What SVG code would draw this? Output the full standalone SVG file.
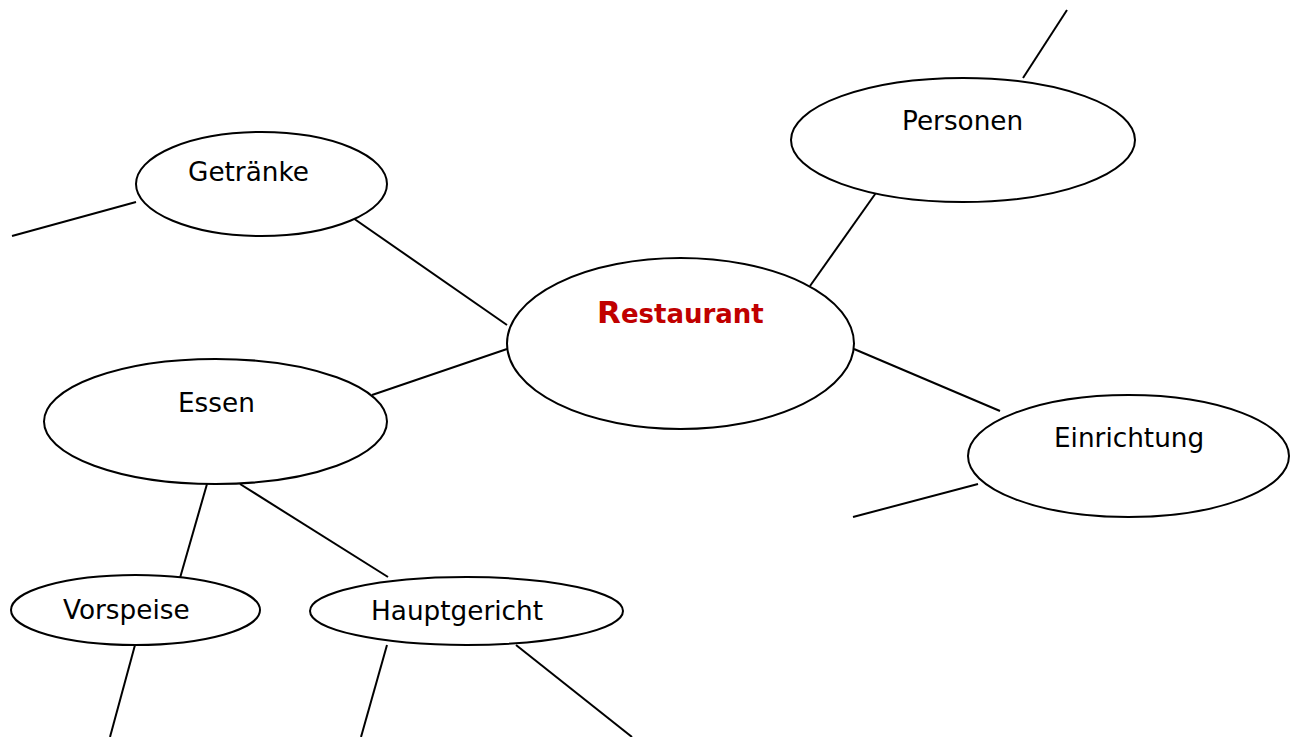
<svg xmlns="http://www.w3.org/2000/svg" width="1295" height="737" viewBox="0 0 1295 737">
<style>
.n{fill:#fff;stroke:#000;stroke-width:2}
.c line{stroke:#000;stroke-width:2}
.t{font-family:"DejaVu Sans",Verdana,sans-serif;font-size:26.3px;fill:#000}
.r{font-family:"DejaVu Sans",Verdana,sans-serif;font-weight:bold;font-size:26px;fill:#c00000}
</style>
<rect width="1295" height="737" fill="#fff"/>
<g id="connectors" class="c">
<line x1="1067" y1="10" x2="1023" y2="78"/>
<line x1="878" y1="190" x2="810" y2="286"/>
<line x1="854" y1="349" x2="1000" y2="411"/>
<line x1="978" y1="484" x2="853" y2="517"/>
<line x1="353" y1="218" x2="507" y2="325"/>
<line x1="507" y1="349" x2="372" y2="395"/>
<line x1="136" y1="202" x2="12" y2="236"/>
<line x1="207" y1="484" x2="180" y2="578"/>
<line x1="240" y1="484" x2="388" y2="577"/>
<line x1="135" y1="645" x2="110" y2="737"/>
<line x1="387" y1="645" x2="361" y2="737"/>
<line x1="516" y1="645" x2="632" y2="737"/>
</g>
<g id="restaurant"><ellipse class="n" cx="680.5" cy="343.5" rx="173.5" ry="85.5"/><text class="r" x="597" y="323"><tspan font-size="31">R</tspan>estaurant</text></g>
<g id="getraenke"><ellipse class="n" cx="261.5" cy="184" rx="125.5" ry="52"/><text class="t" x="188" y="181">Getränke</text></g>
<g id="essen"><ellipse class="n" cx="215.5" cy="421.5" rx="171.5" ry="62.5"/><text class="t" x="178" y="412">Essen</text></g>
<g id="personen"><ellipse class="n" cx="963" cy="140" rx="172" ry="62"/><text class="t" x="902" y="130">Personen</text></g>
<g id="einrichtung"><ellipse class="n" cx="1128.5" cy="456" rx="160.5" ry="61"/><text class="t" x="1054" y="447">Einrichtung</text></g>
<g id="vorspeise"><ellipse class="n" cx="135.5" cy="610" rx="124.5" ry="35"/><text class="t" x="63" y="619">Vorspeise</text></g>
<g id="hauptgericht"><ellipse class="n" cx="466.5" cy="611" rx="156.5" ry="34"/><text class="t" x="371" y="620">Hauptgericht</text></g>
</svg>
